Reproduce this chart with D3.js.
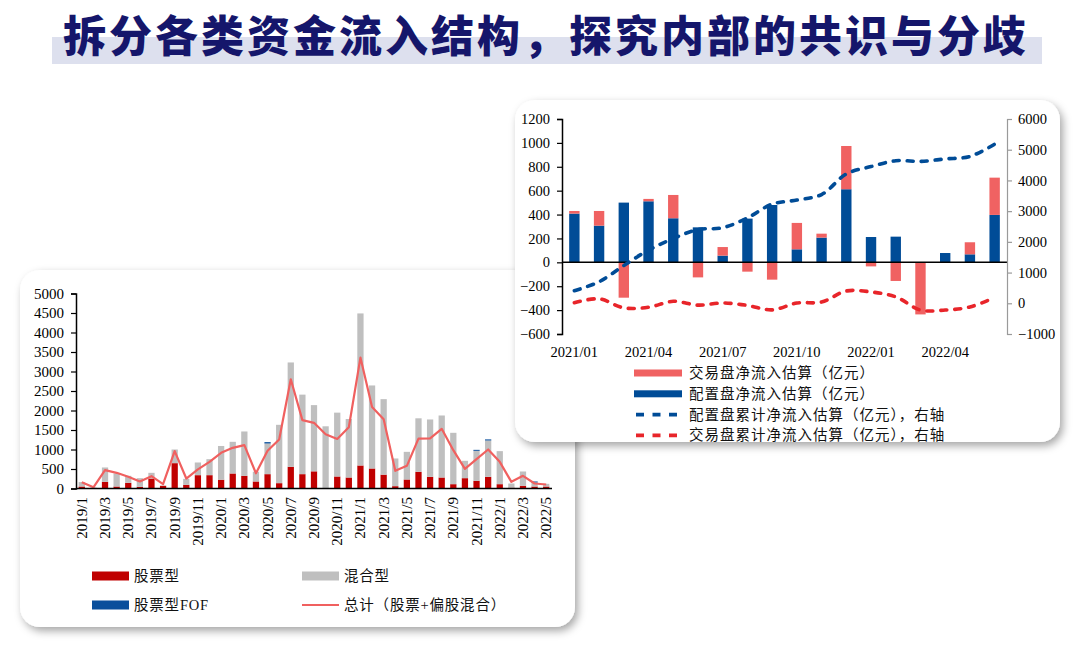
<!DOCTYPE html>
<html><head><meta charset="utf-8">
<script src="https://cdn.jsdelivr.net/npm/d3@7"></script>
<style>body{margin:0;background:#fff}svg{display:block}</style>
</head><body><svg id="c" width="1080" height="648"></svg>
<script>
const titleText = "拆分各类资金流入结构，探究内部的共识与分歧";

// ---- left chart data ----
const monthsA = ["2019/1","2019/2","2019/3","2019/4","2019/5","2019/6","2019/7","2019/8","2019/9","2019/10","2019/11","2019/12",
"2020/1","2020/2","2020/3","2020/4","2020/5","2020/6","2020/7","2020/8","2020/9","2020/10","2020/11","2020/12",
"2021/1","2021/2","2021/3","2021/4","2021/5","2021/6","2021/7","2021/8","2021/9","2021/10","2021/11","2021/12",
"2022/1","2022/2","2022/3","2022/4","2022/5"];
const stockA = [51,0,171,51,145,43,256,68,650,94,342,342,225,385,325,180,368,137,556,368,440,0,308,282,590,513,355,60,231,428,299,282,111,265,197,299,111,20,68,51,51];
const mixedA = [114,25,368,334,180,222,146,10,350,154,325,410,865,812,1137,250,786,1496,2676,2039,1698,1595,1637,1500,3899,2129,1936,710,709,1372,1471,1590,1317,445,769,932,847,108,368,103,69];
const fofA = [0,0,0,0,0,0,0,0,0,0,0,0,0,0,0,0,35,0,0,0,0,0,0,0,0,0,0,0,0,0,0,0,0,0,25,28,0,0,0,26,0];
const totalA = [162,30,470,402,300,180,316,111,958,256,490,684,915,1043,1111,390,966,1257,2800,1753,1684,1390,1270,1570,3356,2090,1775,453,581,1280,1283,1530,983,504,752,1000,684,171,325,128,103];
const yTicksA = [0,500,1000,1500,2000,2500,3000,3500,4000,4500,5000];
const legendA = ["股票型","混合型","股票型FOF","总计（股票+偏股混合）"];

// ---- right chart data ----
const monthsB = ["2021/01","2021/02","2021/03","2021/04","2021/05","2021/06","2021/07","2021/08","2021/09","2021/10","2021/11","2021/12",
"2022/01","2022/02","2022/03","2022/04","2022/05","2022/06"];
const tradeB = [22,123,-296,20,195,-126,72,-78,-145,221,33,362,-34,-156,-436,0,101,312];
const allocB = [408,307,500,511,369,293,56,366,480,109,207,612,212,215,0,78,67,397];
const allocCumB = [410,700,1230,1730,2110,2400,2460,2780,3230,3360,3540,4210,4450,4640,4620,4700,4780,5180];
const tradeCumB = [20,145,-150,-130,65,-60,10,-70,-215,10,40,400,370,210,-220,-220,-120,190];
const xLabelsB = ["2021/01","2021/04","2021/07","2021/10","2022/01","2022/04"];
const yTicksBL = [-600,-400,-200,0,200,400,600,800,1000,1200];
const yTicksBR = [-1000,0,1000,2000,3000,4000,5000,6000];
const legendB = ["交易盘净流入估算（亿元）","配置盘净流入估算（亿元）","配置盘累计净流入估算（亿元），右轴","交易盘累计净流入估算（亿元），右轴"];

const NUM = "'Liberation Serif','Times New Roman',serif";
const CJK = "'Liberation Serif','Noto Sans CJK SC',serif";
const fmt = d3.format("d");

const svg = d3.select("#c");
const defs = svg.append("defs");
const f = defs.append("filter").attr("id","sh").attr("x","-10%").attr("y","-10%").attr("width","125%").attr("height","130%");
f.append("feDropShadow").attr("dx",3).attr("dy",4).attr("stdDeviation",4).attr("flood-color","#000").attr("flood-opacity",0.35);

// ---- title ----
svg.append("rect").attr("x",52).attr("y",37).attr("width",990).attr("height",27).attr("fill","#dde0ee");
svg.append("text").attr("x",546).attr("y",52).attr("text-anchor","middle")
  .attr("font-family","'Noto Sans CJK SC',sans-serif").attr("font-weight",900).attr("font-size",43)
  .attr("letter-spacing",3).attr("fill","#15166b").text(titleText);

// ================= LEFT PANEL =================
svg.append("rect").attr("x",20).attr("y",270).attr("width",555).attr("height",357).attr("rx",20)
  .attr("fill","#fff").attr("filter","url(#sh)");
const gA = svg.append("g");
const xA = d3.scaleBand().domain(monthsA).range([76,552]).paddingInner(0.46).paddingOuter(0.23);
const yA = d3.scaleLinear().domain([0,5000]).range([488.5,293.5]);
const rowsA = monthsA.map((m,i)=>({m, stock:stockA[i], mixed:mixedA[i], fof:fofA[i]}));
const stackA = d3.stack().keys(["stock","mixed","fof"])(rowsA);
const colA = {stock:"#c00000", mixed:"#bfbfbf", fof:"#0a4f9c"};
gA.selectAll("g.s").data(stackA).join("g").attr("fill",d=>colA[d.key])
  .selectAll("rect").data(d=>d).join("rect")
  .attr("x",d=>xA(d.data.m)).attr("width",xA.bandwidth())
  .attr("y",d=>yA(d[1])).attr("height",d=>Math.max(0,yA(d[0])-yA(d[1])));
gA.append("path").datum(totalA).attr("fill","none").attr("stroke","#f0605f").attr("stroke-width",2.2)
  .attr("stroke-linejoin","round")
  .attr("d",d3.line().x((d,i)=>xA(monthsA[i])+xA.bandwidth()/2).y(d=>yA(d)));
// axes
const axA = gA.append("g").attr("transform","translate(76,0)")
  .call(d3.axisLeft(yA).tickValues(yTicksA).tickSize(5).tickFormat(fmt));
axA.select(".domain").attr("stroke","#000").attr("stroke-width",1.5);
axA.selectAll(".tick line").attr("stroke","#000").attr("stroke-width",1.2);
axA.selectAll("text").attr("font-family",NUM).attr("font-size",15).attr("fill","#000").attr("x",-12);
gA.append("line").attr("x1",76).attr("x2",552).attr("y1",488.5).attr("y2",488.5).attr("stroke","#000").attr("stroke-width",1.5);
gA.selectAll("text.xl").data(monthsA.filter((m,i)=>i%2===0)).join("text").attr("class","xl")
  .attr("transform",d=>`translate(${xA(d)+xA.bandwidth()/2+5},497) rotate(-90)`)
  .attr("text-anchor","end").attr("font-family",NUM).attr("font-size",15).attr("fill","#000").text(d=>d);
// legend
const lgA = [{t:legendA[0],c:colA.stock,x:92,y:576,type:"bar"},{t:legendA[1],c:colA.mixed,x:302,y:576,type:"bar"},
             {t:legendA[2],c:colA.fof,x:92,y:605,type:"bar"},{t:legendA[3],c:"#f0605f",x:302,y:605,type:"line"}];
lgA.forEach(d=>{
  if(d.type==="bar") gA.append("rect").attr("x",d.x).attr("y",d.y-4.5).attr("width",37).attr("height",9).attr("fill",d.c);
  else gA.append("line").attr("x1",d.x).attr("x2",d.x+37).attr("y1",d.y).attr("y2",d.y).attr("stroke",d.c).attr("stroke-width",2.2);
  gA.append("text").attr("x",d.x+42).attr("y",d.y+5).attr("font-family",CJK).attr("font-size",14.5)
    .attr("letter-spacing",0.8).attr("fill","#111").text(d.t);
});

// ================= RIGHT PANEL =================
svg.append("rect").attr("x",515).attr("y",100).attr("width",545).attr("height",342).attr("rx",20)
  .attr("fill","#fff").attr("filter","url(#sh)");
const gB = svg.append("g");
const xB = d3.scaleBand().domain(monthsB).range([562,1007]).paddingInner(0.58).paddingOuter(0.29);
const yBL = d3.scaleLinear().domain([-600,1200]).range([334,119]);
const yBR = d3.scaleLinear().domain([-1000,6000]).range([334,119]);
const rowsB = monthsB.map((m,i)=>({m, alloc:allocB[i], trade:tradeB[i]}));
const stackB = d3.stack().keys(["alloc","trade"]).offset(d3.stackOffsetDiverging)(rowsB);
const colB = {alloc:"#004c97", trade:"#f06262"};
gB.selectAll("g.s").data(stackB).join("g").attr("fill",d=>colB[d.key])
  .selectAll("rect").data(d=>d).join("rect")
  .attr("x",d=>xB(d.data.m)).attr("width",xB.bandwidth())
  .attr("y",d=>yBL(d[1])).attr("height",d=>Math.max(0,yBL(d[0])-yBL(d[1])));
gB.append("line").attr("x1",562).attr("x2",1007).attr("y1",yBL(0)).attr("y2",yBL(0)).attr("stroke","#000").attr("stroke-width",1.5);
const lineB = d3.line().curve(d3.curveCatmullRom.alpha(0.5)).x((d,i)=>xB(monthsB[i])+xB.bandwidth()/2).y(d=>yBR(d));
gB.append("path").datum(allocCumB).attr("fill","none").attr("stroke","#004c97").attr("stroke-width",3.6)
  .attr("stroke-dasharray","6,8").attr("stroke-linecap","round").attr("d",lineB);
gB.append("path").datum(tradeCumB).attr("fill","none").attr("stroke","#e8252a").attr("stroke-width",3.6)
  .attr("stroke-dasharray","6,8").attr("stroke-linecap","round").attr("d",lineB);
// axes
const axBL = gB.append("g").attr("transform","translate(562,0)").call(d3.axisLeft(yBL).tickValues(yTicksBL).tickSize(5).tickFormat(fmt));
axBL.select(".domain").attr("stroke","#000").attr("stroke-width",1.5);
axBL.selectAll(".tick line").attr("stroke","#000").attr("stroke-width",1.2);
axBL.selectAll("text").attr("font-family",NUM).attr("font-size",14.5).attr("fill","#000").attr("x",-12);
const axBR = gB.append("g").attr("transform","translate(1007,0)").call(d3.axisRight(yBR).tickValues(yTicksBR).tickSize(5).tickFormat(fmt));
axBR.select(".domain").attr("stroke","#9a9a9a").attr("stroke-width",1.2);
axBR.selectAll(".tick line").attr("stroke","#9a9a9a").attr("stroke-width",1.2);
axBR.selectAll("text").attr("font-family",NUM).attr("font-size",14.5).attr("fill","#000").attr("x",11);
gB.selectAll("text.xl").data(xLabelsB).join("text").attr("class","xl")
  .attr("x",d=>xB(d)+xB.bandwidth()/2).attr("y",357).attr("text-anchor","middle")
  .attr("font-family",NUM).attr("font-size",14.5).attr("fill","#000").text(d=>d);
// legend
const lgB = [{t:legendB[0],c:colB.trade,type:"bar"},{t:legendB[1],c:colB.alloc,type:"bar"},
             {t:legendB[2],c:"#004c97",type:"dash"},{t:legendB[3],c:"#e8252a",type:"dash"}];
lgB.forEach((d,i)=>{
  const y = 373 + i*20.8;
  if(d.type==="bar") gB.append("rect").attr("x",634).attr("y",y-3.5).attr("width",48).attr("height",7).attr("fill",d.c);
  else gB.append("line").attr("x1",636).attr("x2",681).attr("y1",y).attr("y2",y).attr("stroke",d.c)
        .attr("stroke-width",3.6).attr("stroke-dasharray","8,8.5").attr("stroke-linecap","butt");
  gB.append("text").attr("x",689).attr("y",y+5).attr("font-family",CJK).attr("font-size",14.5)
    .attr("letter-spacing",1).attr("fill","#111").text(d.t);
});
</script></body></html>
